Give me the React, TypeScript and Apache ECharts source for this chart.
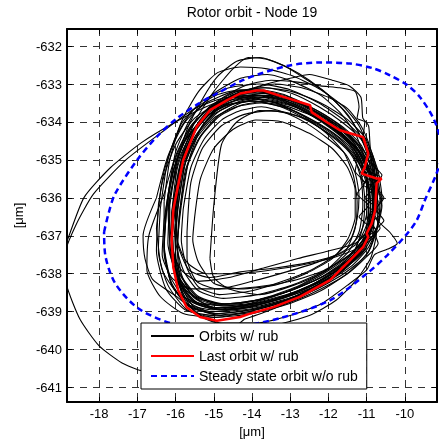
import React, { useEffect, useRef } from "react";
import * as echarts from "echarts";

const titleText = "Rotor orbit - Node 19";
const axisUnit = "[\u03bcm]";
const legendNames = ["Orbits w/ rub", "Last orbit w/ rub", "Steady state orbit w/o rub"];

const xTicks = [-18, -17, -16, -15, -14, -13, -12, -11, -10];
const yTicks = [-632, -633, -634, -635, -636, -637, -638, -639, -640, -641];
const xRange = [-18.84, -9.16];
const yRange = [-641.38, -631.55];

const lastOrbit = [
  [-16.06, -636.33], [-16.01, -636.06], [-15.8, -635.01], [-15.45, -634.13], [-15.1, -633.69],
  [-14.66, -633.43], [-14.31, -633.25], [-13.88, -633.17], [-13.7, -633.17], [-13.18, -633.34],
  [-12.48, -633.56], [-12.44, -633.74], [-12.05, -634.0], [-11.7, -634.22], [-11.26, -634.35],
  [-11.09, -634.4], [-10.96, -634.83], [-11.05, -635.19], [-11.13, -635.36], [-10.74, -635.49],
  [-10.61, -635.49], [-10.74, -635.62], [-10.78, -636.33], [-10.87, -636.68], [-11.0, -636.94],
  [-10.96, -637.03], [-11.09, -637.29], [-11.44, -637.65], [-11.96, -638.17], [-12.75, -638.61],
  [-13.44, -638.88], [-14.05, -639.05], [-14.31, -639.14], [-14.92, -639.24], [-15.36, -639.14],
  [-15.71, -638.88], [-15.93, -638.44], [-16.06, -637.82], [-16.1, -637.12], [-16.06, -636.33],
];

const steadyOrbit = [
  [-17.87, -636.9], [-17.75, -636.4], [-17.58, -635.89], [-17.01, -635.01], [-16.5, -634.4],
  [-15.97, -633.91], [-15.45, -633.55], [-14.92, -633.25], [-14.24, -632.9], [-13.79, -632.73],
  [-13.01, -632.51], [-12.2, -632.43], [-11.44, -632.46], [-10.85, -632.58], [-10.39, -632.77],
  [-9.95, -633.02], [-9.61, -633.34], [-9.27, -633.87], [-9.11, -634.3], [-9.02, -634.8],
  [-9.17, -635.35], [-9.48, -636.07], [-9.69, -636.59], [-9.98, -636.99], [-10.45, -637.5],
  [-11.0, -638.0], [-11.96, -638.7], [-13.27, -639.17], [-14.5, -639.4], [-15.4, -639.42],
  [-16.14, -639.3], [-16.98, -638.91], [-17.58, -638.25], [-17.84, -637.5], [-17.87, -636.9],
];

const orbit01 = [[-16.4,-636.3],[-16.2,-635.0],[-15.85,-634.05],[-15.3,-633.45],[-14.6,-633.1],[-13.8,-633.0],[-13.0,-633.15],[-12.25,-633.5],[-11.6,-633.95],[-11.1,-634.45],[-10.8,-635.1],[-10.65,-635.9],[-10.7,-636.65],[-10.95,-637.4],[-11.45,-637.95],[-12.2,-638.45],[-13.05,-638.8],[-14.0,-639.05],[-14.95,-639.15],[-15.7,-638.95],[-16.2,-638.3],[-16.45,-637.4],[-16.4,-636.3]];
const orbit02 = [[-15.8,-636.3],[-15.6,-635.2],[-15.25,-634.45],[-14.8,-633.95],[-14.3,-633.7],[-13.75,-633.6],[-13.15,-633.75],[-12.55,-634.05],[-12.0,-634.45],[-11.55,-634.85],[-11.3,-635.35],[-11.2,-635.95],[-11.25,-636.55],[-11.4,-637.05],[-11.8,-637.5],[-12.45,-637.9],[-13.2,-638.2],[-14.0,-638.45],[-14.85,-638.55],[-15.4,-638.35],[-15.7,-637.85],[-15.85,-637.1],[-15.8,-636.3]];
const orbit03 = [[-15.95,-636.1],[-15.75,-634.9],[-15.4,-634.05],[-14.9,-633.5],[-14.3,-633.2],[-13.65,-633.1],[-12.95,-633.25],[-12.25,-633.6],[-11.65,-634.0],[-11.15,-634.45],[-10.85,-635.0],[-10.75,-635.7],[-10.8,-636.4],[-11.0,-637.0],[-11.45,-637.5],[-12.15,-637.95],[-12.95,-638.3],[-13.85,-638.55],[-14.75,-638.65],[-15.4,-638.45],[-15.8,-637.9],[-16.0,-637.1],[-15.95,-636.1]];
const orbit04 = [[-16.25,-636.45],[-16.05,-635.25],[-15.7,-634.4],[-15.2,-633.85],[-14.6,-633.55],[-13.95,-633.45],[-13.25,-633.6],[-12.55,-633.95],[-11.95,-634.35],[-11.45,-634.8],[-11.15,-635.35],[-11.05,-636.05],[-11.1,-636.75],[-11.3,-637.35],[-11.75,-637.85],[-12.45,-638.3],[-13.25,-638.65],[-14.15,-638.9],[-15.05,-639.0],[-15.7,-638.8],[-16.1,-638.25],[-16.3,-637.45],[-16.25,-636.45]];
const orbit05 = [[-16.2,-636.0],[-16.0,-634.8],[-15.6,-633.9],[-15.0,-633.25],[-14.3,-632.85],[-13.6,-632.75],[-12.9,-632.95],[-12.2,-633.3],[-11.7,-633.75],[-11.3,-634.3],[-11.05,-634.9],[-10.7,-635.3],[-10.85,-635.6],[-10.6,-636.0],[-10.8,-636.4],[-10.65,-636.8],[-10.95,-637.1],[-11.4,-637.6],[-12.1,-638.05],[-12.9,-638.4],[-13.8,-638.7],[-14.7,-638.8],[-15.4,-638.6],[-15.85,-638.05],[-16.1,-637.2],[-16.2,-636.0]];
const orbit06 = [[-15.1,-637.6],[-15.0,-636.2],[-14.8,-634.6],[-14.4,-634.0],[-13.8,-633.7],[-13.1,-633.75],[-12.4,-634.0],[-11.8,-634.4],[-11.35,-634.9],[-11.15,-635.5],[-11.1,-636.2],[-11.2,-636.9],[-11.5,-637.45],[-12.1,-637.95],[-12.9,-638.3],[-13.8,-638.55],[-14.6,-638.4],[-15.0,-638.1],[-15.1,-637.6]];
const orbit07 = [[-16.5,-636.0],[-16.2,-634.9],[-15.75,-634.0],[-15.2,-633.5],[-14.5,-633.2],[-13.8,-633.15],[-13.1,-633.3],[-12.4,-633.7],[-11.75,-634.1],[-11.25,-634.6],[-10.95,-635.2],[-10.8,-635.9],[-10.85,-636.6],[-11.1,-637.25],[-11.55,-637.8],[-12.3,-638.3],[-13.1,-638.7],[-14.0,-638.95],[-14.9,-639.05],[-15.6,-638.9],[-15.96,-638.61],[-16.6,-638.15],[-16.8,-637.6],[-16.85,-637.0],[-16.5,-636.0]];
const orbit08 = [[-16.0,-636.2],[-15.85,-635.0],[-15.5,-634.0],[-15.0,-633.2],[-14.5,-632.6],[-14.1,-632.3],[-13.6,-632.35],[-13.0,-632.6],[-12.5,-632.9],[-12.0,-633.3],[-11.5,-633.8],[-11.15,-634.4],[-10.9,-635.0],[-10.8,-635.7],[-10.85,-636.4],[-11.05,-637.05],[-11.5,-637.6],[-12.2,-638.1],[-13.0,-638.45],[-13.9,-638.7],[-14.8,-638.8],[-15.45,-638.6],[-15.9,-638.0],[-16.1,-637.2],[-16.0,-636.2]];
const orbit09 = [[-16.1,-636.4],[-15.95,-635.2],[-15.6,-634.3],[-15.1,-633.7],[-14.5,-633.3],[-13.8,-633.05],[-13.0,-632.85],[-12.5,-632.75],[-11.9,-632.9],[-11.45,-633.05],[-11.15,-633.35],[-11.1,-633.9],[-10.95,-634.1],[-10.9,-634.7],[-10.7,-635.3],[-10.6,-636.0],[-10.7,-636.7],[-10.95,-637.3],[-11.4,-637.8],[-12.1,-638.25],[-12.9,-638.6],[-13.8,-638.85],[-14.7,-638.95],[-15.45,-638.75],[-15.9,-638.2],[-16.1,-637.4],[-16.1,-636.4]];
const orbit10 = [[-15.95,-636.3],[-15.75,-635.1],[-15.4,-634.3],[-14.9,-633.75],[-14.3,-633.45],[-13.65,-633.35],[-12.95,-633.5],[-12.3,-633.85],[-11.7,-634.25],[-11.2,-634.75],[-10.9,-635.35],[-10.75,-636.0],[-10.7,-636.6],[-10.4,-636.9],[-10.2,-637.2],[-10.45,-637.35],[-10.8,-637.5],[-11.0,-637.9],[-11.5,-638.3],[-12.2,-638.8],[-13.0,-639.1],[-13.9,-639.3],[-14.8,-639.3],[-15.5,-639.0],[-15.85,-638.4],[-16.0,-637.4],[-15.95,-636.3]];
const orbit11 = [[-14.2,-639.2],[-13.5,-638.95],[-12.7,-638.6],[-12.0,-638.2],[-11.4,-637.7],[-11.05,-637.1],[-10.9,-636.4],[-10.95,-635.6],[-11.2,-634.9],[-11.7,-634.3],[-12.4,-633.85],[-13.2,-633.55],[-13.9,-633.4],[-14.6,-633.35],[-15.5,-633.65],[-16.4,-634.3],[-17.3,-635.0],[-18.15,-635.9],[-18.6,-636.7],[-18.9,-637.5],[-18.85,-638.3],[-18.5,-639.2],[-18.0,-639.9],[-17.4,-640.35],[-16.9,-640.55],[-16.3,-640.6],[-15.5,-640.3],[-14.8,-639.7],[-14.2,-639.2]];
const orbit12 = [[-19.2,-637.9],[-18.9,-637.3],[-18.4,-636.0],[-17.7,-635.2],[-16.9,-634.55],[-16.0,-634.0],[-15.2,-633.6],[-14.5,-633.35],[-13.8,-633.3],[-13.1,-633.45],[-12.4,-633.8],[-11.8,-634.2],[-11.3,-634.65],[-11.0,-635.25]];
const orbit13 = [[-15.5,-636.5],[-15.35,-635.5],[-15.0,-634.7],[-14.5,-634.2],[-13.9,-633.95],[-13.2,-634.0],[-12.5,-634.3],[-11.9,-634.7],[-11.5,-635.2],[-11.3,-635.8],[-11.3,-636.5],[-11.5,-637.1],[-11.9,-637.6],[-12.6,-638.0],[-13.4,-638.3],[-14.3,-638.4],[-15.0,-638.25],[-15.4,-637.7],[-15.55,-637.1],[-15.5,-636.5]];
const orbit14 = [[-16.15,-636.2],[-15.95,-635.0],[-15.6,-634.15],[-15.1,-633.6],[-14.5,-633.3],[-13.85,-633.2],[-13.15,-633.35],[-12.45,-633.7],[-11.9,-634.05],[-11.4,-634.45],[-11.1,-634.95],[-10.95,-635.3],[-10.65,-635.45],[-10.9,-635.7],[-10.7,-636.1],[-10.95,-636.5],[-10.75,-636.9],[-11.1,-637.2],[-11.55,-637.75],[-12.25,-638.2],[-13.05,-638.55],[-13.95,-638.8],[-14.85,-638.9],[-15.55,-638.7],[-15.95,-638.15],[-16.15,-637.35],[-16.15,-636.2]];
const orbit15 = [[-16.0,-636.5],[-15.85,-635.3],[-15.5,-634.4],[-15.0,-633.8],[-14.4,-633.5],[-13.7,-633.4],[-13.0,-633.55],[-12.3,-633.9],[-11.7,-634.3],[-11.2,-634.8],[-10.95,-635.4],[-10.85,-636.1],[-10.9,-636.8],[-11.1,-637.35],[-11.55,-637.85],[-12.25,-638.3],[-13.05,-638.6],[-13.95,-638.85],[-14.85,-638.95],[-15.5,-638.75],[-15.9,-638.2],[-16.05,-637.4],[-16.0,-636.5]];
const orbit16 = [[-16.3,-636.6],[-16.1,-635.4],[-15.75,-634.5],[-15.25,-633.9],[-14.65,-633.55],[-14.0,-633.45],[-13.3,-633.55],[-12.6,-633.85],[-12.0,-634.2],[-11.5,-634.6],[-11.15,-635.1],[-10.95,-635.8],[-10.95,-636.5],[-11.1,-637.1],[-11.5,-637.55],[-12.2,-637.95],[-13.0,-638.2],[-13.9,-638.35],[-14.8,-638.4],[-15.6,-638.4],[-16.1,-638.1],[-16.35,-637.5],[-16.3,-636.6]];
const orbit17 = [[-16.2,-636.0],[-15.95,-634.9],[-15.55,-634.1],[-15.05,-633.55],[-14.4,-633.2],[-13.7,-633.1],[-12.95,-633.2],[-12.2,-633.5],[-11.55,-633.9],[-11.05,-634.4],[-10.8,-635.0],[-10.7,-635.7],[-10.8,-636.4],[-11.05,-637.05],[-11.55,-637.6],[-12.3,-638.1],[-13.15,-638.5],[-14.1,-638.8],[-15.0,-638.95],[-15.7,-638.8],[-16.1,-638.3],[-16.3,-637.3],[-16.2,-636.0]];
const orbit18 = [[-15.9,-636.0],[-15.7,-634.9],[-15.3,-634.1],[-14.8,-633.6],[-14.2,-633.35],[-13.5,-633.3],[-12.8,-633.5],[-12.1,-633.85],[-11.5,-634.3],[-11.05,-634.8],[-10.8,-635.5],[-10.7,-636.3],[-10.75,-637.0],[-10.9,-637.6],[-11.3,-638.2],[-11.8,-638.7],[-12.5,-639.1],[-13.4,-639.35],[-14.4,-639.4],[-15.2,-639.2],[-15.75,-638.7],[-16.0,-637.9],[-16.0,-637.0],[-15.9,-636.0]];
const orbit19 = [[-15.9,-636.4],[-15.7,-635.2],[-15.35,-634.4],[-14.85,-633.85],[-14.25,-633.55],[-13.6,-633.45],[-12.9,-633.6],[-12.2,-633.95],[-11.6,-634.35],[-11.15,-634.85],[-10.9,-635.45],[-10.8,-636.15],[-10.9,-636.85],[-11.2,-637.3],[-11.8,-637.55],[-12.6,-637.75],[-13.5,-637.9],[-14.4,-638.0],[-15.2,-638.0],[-15.7,-637.7],[-15.95,-637.1],[-15.9,-636.4]];
const orbit20 = [[-16.05,-636.6],[-15.85,-635.4],[-15.5,-634.5],[-15.0,-633.9],[-14.4,-633.6],[-13.75,-633.5],[-13.05,-633.65],[-12.35,-634.0],[-11.75,-634.4],[-11.3,-634.9],[-11.0,-635.5],[-10.9,-636.2],[-11.0,-636.9],[-11.3,-637.2],[-12.0,-637.4],[-12.8,-637.6],[-13.7,-637.85],[-14.6,-638.1],[-15.4,-638.2],[-15.85,-637.9],[-16.1,-637.3],[-16.05,-636.6]];
const orbit21 = [[-16.2,-636.3],[-16.0,-635.2],[-15.7,-634.2],[-15.3,-633.4],[-14.9,-632.8],[-14.4,-632.4],[-13.8,-632.3],[-13.2,-632.5],[-12.7,-632.8],[-12.1,-633.2],[-11.6,-633.7],[-11.25,-634.2],[-11.0,-634.8],[-10.85,-635.5],[-10.8,-636.2],[-10.9,-636.9],[-11.2,-637.5],[-11.8,-638.0],[-12.6,-638.4],[-13.5,-638.7],[-14.4,-638.85],[-15.2,-638.8],[-15.75,-638.4],[-16.1,-637.6],[-16.2,-636.3]];
const orbit22 = [[-16.0,-636.0],[-15.8,-634.9],[-15.4,-634.0],[-14.9,-633.45],[-14.2,-633.05],[-13.5,-632.9],[-12.8,-632.95],[-12.2,-633.05],[-11.7,-633.1],[-11.3,-633.2],[-11.2,-633.6],[-11.25,-633.9],[-11.05,-634.0],[-11.1,-634.5],[-10.85,-634.9],[-10.75,-635.6],[-10.6,-636.2],[-10.75,-636.9],[-11.0,-637.5],[-11.6,-638.0],[-12.4,-638.45],[-13.3,-638.75],[-14.2,-638.95],[-15.1,-639.0],[-15.7,-638.7],[-16.05,-637.9],[-16.1,-637.0],[-16.0,-636.0]];
const orbit23 = [[-16.1,-636.4],[-15.9,-635.2],[-15.55,-634.3],[-15.05,-633.75],[-14.45,-633.45],[-13.8,-633.35],[-13.1,-633.5],[-12.4,-633.85],[-11.8,-634.25],[-11.35,-634.65],[-11.2,-635.0],[-10.9,-635.2],[-11.15,-635.5],[-10.8,-635.75],[-11.05,-636.0],[-10.7,-636.3],[-11.0,-636.55],[-10.75,-636.85],[-11.1,-637.1],[-11.0,-637.3],[-11.45,-637.7],[-12.15,-638.15],[-12.95,-638.5],[-13.85,-638.75],[-14.75,-638.85],[-15.45,-638.65],[-15.9,-638.1],[-16.1,-637.3],[-16.1,-636.4]];
const orbit24 = [[-16.5,-636.8],[-16.35,-635.6],[-16.0,-634.6],[-15.5,-633.9],[-14.85,-633.5],[-14.1,-633.35],[-13.35,-633.5],[-12.65,-633.85],[-12.05,-634.3],[-11.6,-634.8],[-11.35,-635.4],[-11.25,-636.1],[-11.3,-636.8],[-11.55,-637.4],[-12.05,-637.9],[-12.75,-638.3],[-13.55,-638.6],[-14.45,-638.8],[-15.3,-638.8],[-15.95,-638.5],[-16.35,-637.9],[-16.5,-636.8]];
const orbit25 = [[-15.85,-636.2],[-15.65,-635.0],[-15.3,-634.1],[-14.75,-633.5],[-14.1,-633.15],[-13.4,-633.0],[-12.7,-633.1],[-12.0,-633.35],[-11.5,-633.65],[-11.15,-634.1],[-10.95,-634.55],[-10.85,-635.2],[-10.7,-635.8],[-10.8,-636.5],[-10.85,-637.0],[-11.15,-637.5],[-11.7,-637.95],[-12.4,-638.35],[-13.2,-638.65],[-14.1,-638.85],[-14.95,-638.9],[-15.55,-638.6],[-15.85,-638.0],[-15.95,-637.2],[-15.85,-636.2]];
const orbit26 = [[-16.3,-635.9],[-16.0,-634.9],[-15.6,-634.1],[-15.05,-633.6],[-14.4,-633.3],[-13.7,-633.25],[-13.0,-633.4],[-12.3,-633.75],[-11.7,-634.15],[-11.2,-634.65],[-10.9,-635.3],[-10.8,-636.0],[-10.85,-636.7],[-11.1,-637.3],[-11.6,-637.85],[-12.35,-638.35],[-13.2,-638.75],[-14.1,-639.0],[-15.0,-639.15],[-15.8,-639.05],[-16.4,-638.6],[-16.75,-637.9],[-16.7,-637.0],[-16.3,-635.9]];
const orbit27 = [[-15.7,-636.9],[-15.6,-635.6],[-15.3,-634.7],[-14.8,-634.1],[-14.2,-633.8],[-13.5,-633.7],[-12.8,-633.85],[-12.15,-634.2],[-11.6,-634.6],[-11.2,-635.1],[-11.0,-635.7],[-11.0,-636.4],[-11.2,-637.0],[-11.6,-637.4],[-12.3,-637.7],[-13.1,-637.95],[-14.0,-638.2],[-14.9,-638.4],[-15.45,-638.2],[-15.7,-637.6],[-15.7,-636.9]];
const orbit28 = [[-16.3,-636.1],[-16.15,-635.0],[-15.85,-634.0],[-15.4,-633.2],[-14.9,-632.7],[-14.3,-632.55],[-13.6,-632.6],[-12.9,-632.8],[-12.2,-633.15],[-11.6,-633.6],[-11.2,-634.1],[-10.95,-634.7],[-10.8,-635.4],[-10.75,-636.1],[-10.85,-636.8],[-11.1,-637.4],[-11.6,-637.9],[-12.3,-638.35],[-13.15,-638.7],[-14.05,-638.95],[-14.95,-639.05],[-15.65,-638.85],[-16.1,-638.3],[-16.3,-637.3],[-16.3,-636.1]];
const orbit29 = [[-16.15,-636.0],[-15.9,-634.95],[-15.5,-634.15],[-15.0,-633.65],[-14.35,-633.35],[-13.65,-633.25],[-12.95,-633.4],[-12.3,-633.75],[-11.75,-634.15],[-11.3,-634.6],[-11.0,-635.15],[-10.85,-635.85],[-10.85,-636.55],[-11.05,-637.15],[-11.5,-637.65],[-12.2,-638.1],[-13.0,-638.45],[-13.9,-638.7],[-14.8,-638.8],[-15.5,-638.6],[-15.95,-638.05],[-16.2,-637.2],[-16.15,-636.0]];
const orbit30 = [[-16.0,-636.2],[-15.8,-635.0],[-15.45,-634.2],[-14.95,-633.65],[-14.35,-633.4],[-13.7,-633.3],[-13.0,-633.45],[-12.35,-633.8],[-11.75,-634.2],[-11.3,-634.7],[-11.05,-635.3],[-10.95,-636.0],[-11.0,-636.7],[-11.25,-637.2],[-11.75,-637.5],[-12.5,-637.7],[-13.4,-637.85],[-14.3,-637.95],[-15.1,-638.1],[-15.65,-637.9],[-15.95,-637.2],[-16.0,-636.2]];
const orbit31 = [[-16.05,-636.1],[-15.85,-635.0],[-15.5,-634.2],[-15.0,-633.6],[-14.4,-633.3],[-13.7,-633.2],[-13.0,-633.35],[-12.3,-633.7],[-11.7,-634.1],[-11.3,-634.5],[-11.0,-634.9],[-11.2,-635.1],[-10.85,-635.4],[-11.1,-635.65],[-10.7,-635.9],[-11.0,-636.2],[-10.65,-636.45],[-10.95,-636.7],[-10.8,-637.0],[-11.2,-637.35],[-11.6,-637.8],[-12.3,-638.25],[-13.1,-638.6],[-14.0,-638.85],[-14.9,-638.95],[-15.55,-638.75],[-15.95,-638.2],[-16.1,-637.3],[-16.05,-636.1]];
const orbit32 = [[-16.25,-636.3],[-16.05,-635.1],[-15.65,-634.2],[-15.15,-633.65],[-14.55,-633.35],[-13.9,-633.3],[-13.2,-633.45],[-12.5,-633.8],[-11.9,-634.2],[-11.45,-634.6],[-11.25,-635.0],[-11.3,-635.3],[-11.05,-635.6],[-11.25,-635.9],[-10.95,-636.2],[-11.2,-636.5],[-10.9,-636.8],[-11.2,-637.1],[-11.35,-637.5],[-11.85,-637.95],[-12.55,-638.35],[-13.35,-638.65],[-14.25,-638.85],[-15.1,-638.9],[-15.75,-638.65],[-16.15,-638.05],[-16.3,-637.2],[-16.25,-636.3]];
const orbit33 = [[-16.45,-636.2],[-16.3,-635.3],[-16.0,-634.4],[-15.55,-633.7],[-14.95,-633.3],[-14.3,-633.15],[-13.6,-633.25],[-12.9,-633.55],[-12.2,-633.95],[-11.65,-634.35],[-11.25,-634.85],[-11.0,-635.45],[-10.9,-636.15],[-10.95,-636.85],[-11.2,-637.45],[-11.7,-637.95],[-12.4,-638.4],[-13.2,-638.75],[-14.1,-639.0],[-15.0,-639.1],[-15.75,-638.95],[-16.25,-638.4],[-16.5,-637.4],[-16.45,-636.2]];
const orbit34 = [[-15.9,-636.5],[-15.75,-635.3],[-15.4,-634.45],[-14.9,-633.85],[-14.3,-633.5],[-13.6,-633.35],[-12.9,-633.45],[-12.2,-633.75],[-11.6,-634.15],[-11.15,-634.6],[-10.9,-635.1],[-10.6,-635.4],[-10.75,-635.7],[-10.55,-636.0],[-10.75,-636.3],[-10.55,-636.6],[-10.8,-636.9],[-10.7,-637.2],[-11.0,-637.55],[-11.5,-638.0],[-12.2,-638.4],[-13.0,-638.75],[-13.9,-639.0],[-14.8,-639.1],[-15.5,-638.9],[-15.85,-638.3],[-15.95,-637.4],[-15.9,-636.5]];

const orbitsWithRub = [
  orbit01, orbit02, orbit03, orbit04, orbit05, orbit06, orbit07, orbit08, orbit09, orbit10,
  orbit11, orbit12, orbit13, orbit14, orbit15, orbit16, orbit17, orbit18, orbit19, orbit20,
  orbit21, orbit22, orbit23, orbit24, orbit25, orbit26, orbit27, orbit28, orbit29, orbit30,
  orbit31, orbit32, orbit33, orbit34,
];

const FONT = "'Liberation Sans', Arial, Helvetica, sans-serif";

export default function App() {
  const ref = useRef<HTMLDivElement>(null);
  useEffect(() => {
    const chart = echarts.init(ref.current as HTMLDivElement, null, { renderer: "svg" });
    const gridLine = { show: true, lineStyle: { color: "#333", width: 1, type: [7, 6] as any } };
    const boxLine = { show: true, onZero: false, lineStyle: { color: "#000", width: 2 } };
    const tick = { show: true, inside: true, length: 5, lineStyle: { color: "#000", width: 1 } };

    const blackSeries = orbitsWithRub.map((o) => ({
      type: "line",
      name: legendNames[0],
      data: o,
      symbol: "none",
      smooth: 0.2,
      silent: true,
      lineStyle: { color: "#000", width: 1.1 },
      itemStyle: { color: "#000" },
      z: 2,
    }));

    chart.setOption({
      animation: false,
      textStyle: { fontFamily: FONT },
      title: {
        text: titleText,
        left: 252,
        top: 5,
        textAlign: "center",
        padding: 0,
        textStyle: { fontFamily: FONT, fontSize: 14, fontWeight: "normal", color: "#000" },
      },
      grid: { left: 67, top: 29, width: 370, height: 373 },
      legend: {
        data: legendNames,
        orient: "vertical",
        left: 141,
        top: 323,
        itemWidth: 43,
        itemHeight: 12,
        itemGap: 6,
        padding: [6, 9, 6, 9],
        backgroundColor: "#fff",
        borderColor: "#000",
        borderWidth: 1,
        borderRadius: 0,
        selectedMode: false,
        itemStyle: { color: "rgba(0,0,0,0)", borderWidth: 0, opacity: 0 },
        textStyle: { fontFamily: FONT, fontSize: 14, color: "#000" },
        z: 10,
      },
      xAxis: [
        {
          type: "value",
          position: "bottom",
          min: xRange[0],
          max: xRange[1],
          axisLine: boxLine,
          axisTick: { ...tick, customValues: xTicks },
          axisLabel: { customValues: xTicks, fontSize: 13, color: "#000", margin: 5, fontFamily: FONT },
          splitLine: gridLine,
          name: axisUnit,
          nameLocation: "middle",
          nameGap: 16,
          nameTextStyle: { fontSize: 13, color: "#000", fontFamily: FONT },
        },
        {
          type: "value",
          position: "top",
          min: xRange[0],
          max: xRange[1],
          axisLine: boxLine,
          axisTick: { ...tick, customValues: xTicks },
          axisLabel: { show: false },
          splitLine: { show: false },
        },
      ],
      yAxis: [
        {
          type: "value",
          position: "left",
          min: yRange[0],
          max: yRange[1],
          axisLine: boxLine,
          axisTick: { ...tick, customValues: yTicks },
          axisLabel: { customValues: yTicks, fontSize: 13, color: "#000", margin: 5, fontFamily: FONT },
          splitLine: gridLine,
          name: axisUnit,
          nameLocation: "middle",
          nameGap: 40,
          nameTextStyle: { fontSize: 13, color: "#000", fontFamily: FONT },
        },
        {
          type: "value",
          position: "right",
          min: yRange[0],
          max: yRange[1],
          axisLine: boxLine,
          axisTick: { ...tick, customValues: yTicks },
          axisLabel: { show: false },
          splitLine: { show: false },
        },
      ],
      series: [
        ...blackSeries,
        {
          type: "line",
          name: legendNames[1],
          data: lastOrbit,
          symbol: "none",
          silent: true,
          lineStyle: { color: "#ff0000", width: 2.5 },
          itemStyle: { color: "#ff0000" },
          z: 3,
        },
        {
          type: "line",
          name: legendNames[2],
          data: steadyOrbit,
          symbol: "none",
          smooth: 0.3,
          silent: true,
          lineStyle: { color: "#0000ff", width: 2.5, type: [6, 4] as any },
          itemStyle: { color: "#0000ff" },
          z: 4,
        },
      ],
    });
    return () => chart.dispose();
  }, []);
  return <div ref={ref} style={{ position: "fixed", left: 0, top: 0, width: 439, height: 448 }} />;
}
